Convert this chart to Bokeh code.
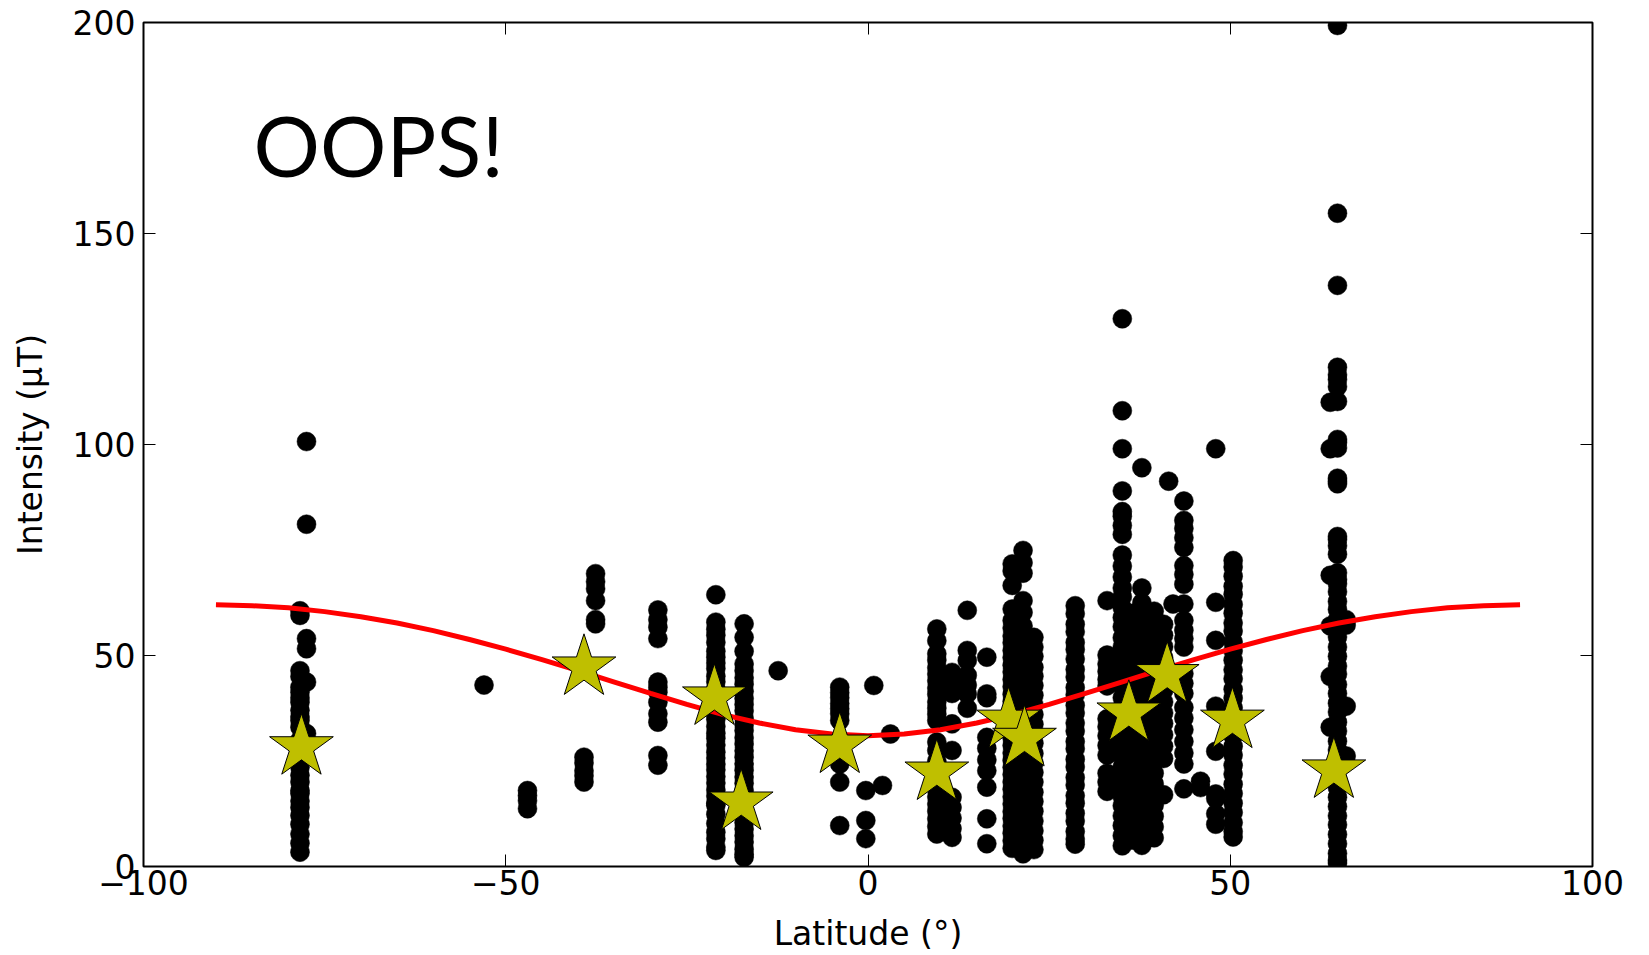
from bokeh.plotting import figure
from bokeh.models import (Range1d, FixedTicker, LinearAxis, CustomJSTickFormatter,
                          Label, ColumnDataSource)
from bokeh.embed import file_html
from bokeh.resources import INLINE

# ---------------- data ----------------
x_ticks = [-100, -50, 0, 50, 100]
y_ticks = [0, 50, 100, 150, 200]

# individual measurements, grouped by latitude column
column_lat = [-77.5, -78.4, -53.0, -47.0, -37.6, -39.2, -29.0, -21.0, -17.1, -12.4,
              -3.9, -0.3, 0.8, 2.0, 3.1, 9.5, 11.6, 13.7, 16.4, 19.9, 21.4, 22.9,
              28.6, 33.0, 35.1, 36.5, 37.8, 39.5, 40.8, 41.5, 42.1, 43.6, 45.9,
              48.0, 50.4, 63.8, 64.8, 66.0]
column_values = [
    [100.7, 81.1, 54.0, 51.6, 43.7, 31.5],
    [60.6, 59.5, 46.4, 45.0, 42.5, 41.3, 40.0, 38.9, 37.0, 35.5, 34.6, 33.0, 30.0,
     28.3, 26.5, 25.0, 23.5, 21.6, 20.0, 18.0, 17.3, 15.5, 14.0, 12.1, 10.0, 7.7, 5.5, 3.4],
    [43.0],
    [18.0, 16.8, 15.6, 13.7],
    [69.4, 67.5, 65.8, 63.0, 58.5, 57.5],
    [46.5, 25.9, 24.5, 22.7, 21.5, 20.0],
    [60.8, 58.5, 56.7, 54.0, 43.7, 42.5, 41.3, 38.9, 36.2, 34.2, 26.3, 24.0],
    [64.4, 57.9, 56.2, 54.8, 53.1, 51.0, 49.6, 48.2, 46.9, 45.1, 43.8, 42.0, 40.7,
     39.3, 37.6, 36.1, 34.9, 33.2, 31.6, 30.4, 28.8, 27.1, 25.7, 24.2, 22.9, 21.3,
     19.8, 18.1, 16.7, 15.0, 14.5, 12.4, 10.2, 8.1, 6.6, 4.6, 3.8],
    [57.5, 54.3, 51.0, 48.0, 46.4, 44.7, 43.2, 41.5, 39.8, 38.4, 36.9, 35.1, 33.6,
     32.2, 30.5, 29.0, 27.4, 25.9, 24.3, 22.8, 21.2, 19.7, 18.0, 16.6, 15.1, 13.5,
     12.0, 10.4, 8.9, 7.3, 5.8, 4.1, 2.9, 2.2],
    [46.4],
    [42.5, 41.2, 40.0, 38.6, 37.4, 36.2, 34.6, 30.0, 28.0, 24.3, 20.0, 9.7],
    [18.0, 10.9, 6.6],
    [42.9],
    [19.2],
    [31.4],
    [56.3, 53.5, 50.4, 48.9, 47.1, 45.6, 44.0, 42.3, 40.8, 39.0, 37.5, 36.1, 34.6,
     29.5, 27.5, 25.0, 22.3, 20.0, 18.2, 16.5, 14.8, 13.1, 11.3, 9.5, 7.7],
    [46.0, 43.5, 41.0, 33.8, 27.5, 16.4, 14.0, 11.5, 9.0, 6.9],
    [60.7, 51.2, 48.8, 45.3, 43.0, 40.9, 37.5],
    [49.6, 40.9, 40.0, 30.6, 28.0, 25.3, 22.7, 18.8, 11.3, 5.4],
    [71.7, 70.0, 66.6, 61.0, 58.3, 56.5, 54.6, 53.0, 51.2, 49.5, 47.7, 46.1, 44.3,
     42.6, 40.8, 39.1, 37.4, 35.6, 33.9, 32.2, 30.4, 28.7, 26.9, 25.2, 23.5, 21.8,
     20.0, 18.3, 16.5, 14.8, 13.0, 11.4, 9.6, 7.9, 6.1, 4.3],
    [74.9, 72.0, 69.5, 63.0, 60.2, 57.0, 55.1, 52.4, 50.0, 47.3, 45.0, 42.2, 39.7,
     37.0, 34.5, 32.1, 29.4, 27.0, 24.4, 22.0, 19.6, 17.0, 14.5, 12.1, 9.4, 7.0, 4.6, 3.0],
    [54.3, 52.0, 49.8, 47.2, 45.1, 42.9, 40.6, 38.3, 36.0, 33.7, 31.4, 29.2, 26.8,
     24.5, 22.3, 20.0, 17.6, 15.4, 13.1, 10.8, 8.5, 6.2, 4.0],
    [61.8, 59.9, 57.4, 55.6, 53.1, 51.4, 49.2, 46.7, 44.9, 42.4, 40.7, 38.2, 36.4,
     34.0, 32.1, 29.6, 27.9, 25.4, 23.6, 21.1, 19.3, 16.8, 15.0, 12.6, 10.8, 8.3, 6.5, 5.3],
    [63.0, 50.1, 48.0, 46.2, 44.3, 42.8, 35.0, 33.1, 31.0, 28.7, 26.4, 22.1, 20.0, 17.8],
    [129.8, 108.0, 99.0, 89.0, 84.1, 83.0, 80.8, 78.7, 73.8, 71.2, 68.6, 66.0, 63.9,
     61.3, 59.0, 56.8, 54.2, 52.0, 49.7, 47.1, 44.9, 42.6, 40.0, 37.8, 35.5, 33.0,
     30.7, 28.4, 26.0, 23.6, 21.3, 19.0, 16.6, 14.4, 12.0, 9.7, 7.3, 4.9],
    [60.0, 57.5, 55.0, 52.2, 50.0, 47.5, 45.1, 42.6, 40.2, 37.9, 35.3, 33.0, 30.4,
     28.1, 25.7, 23.2, 20.8, 18.4, 16.0, 13.5, 11.1, 8.7, 6.3],
    [94.5, 66.0, 62.5, 58.9, 56.0, 53.4, 51.0, 48.2, 45.8, 43.0, 40.5, 38.0, 35.4,
     32.9, 30.2, 27.8, 25.1, 22.6, 20.0, 17.5, 15.1, 12.6, 10.1, 7.5, 5.0],
    [60.5, 58.0, 55.3, 52.8, 50.1, 47.6, 45.0, 42.5, 40.0, 37.4, 34.9, 32.3, 29.8,
     27.2, 24.7, 22.1, 19.6, 17.0, 14.5, 11.9, 9.4, 6.8],
    [57.4, 54.8, 52.1, 49.5, 46.8, 44.3, 41.7, 39.0, 36.4, 33.9, 31.2, 28.5, 25.6, 17.0],
    [91.3],
    [62.2],
    [86.6, 82.0, 80.1, 77.9, 75.6, 71.3, 69.2, 66.9, 62.2, 58.3, 56.0, 54.0, 52.0,
     45.7, 43.4, 41.0, 37.7, 35.2, 32.4, 29.6, 26.9, 24.3, 18.4],
    [18.7, 20.2],
    [99.0, 62.6, 53.6, 38.0, 27.3, 17.2, 16.1, 12.5, 10.0],
    [72.5, 71.0, 68.8, 66.4, 64.5, 62.1, 60.0, 57.7, 55.8, 53.2, 51.1, 48.9, 46.6,
     44.5, 42.0, 39.9, 37.6, 35.4, 33.0, 30.9, 28.5, 26.4, 24.0, 21.9, 19.5, 17.3,
     15.0, 12.8, 10.4, 8.3, 7.0],
    [110.0, 99.0, 69.0, 57.0, 45.0, 33.0],
    [199.3, 154.8, 137.7, 118.3, 116.5, 115.4, 113.7, 110.2, 101.2, 100.5, 99.2, 92.0,
     91.3, 90.7, 78.2, 77.5, 76.0, 74.0, 69.6, 68.0, 67.0, 65.1, 62.8, 60.9, 58.5,
     56.2, 54.4, 52.0, 49.8, 47.5, 45.6, 43.1, 41.0, 38.7, 36.6, 34.2, 32.1, 29.7,
     27.6, 25.3, 23.1, 20.8, 18.7, 16.4, 14.2, 12.0, 9.9, 7.6, 5.4, 3.1, 1.5, 0.8],
    [58.5, 57.2, 38.0, 26.2],
]

# site mean values (stars)
mean_lat = [-78.2, -39.2, -21.2, -17.5, -3.9, 9.5, 19.4, 21.6, 36.0, 41.3, 50.3, 64.3]
mean_int = [28.3, 47.2, 40.1, 15.2, 28.7, 22.3, 34.6, 30.3, 36.3, 45.4, 34.6, 22.8]

# red reference curve
curve_lat = [-90, -85, -80, -75, -70, -65, -60, -55, -50, -45, -40, -35, -30, -25,
             -20, -15, -10, -5, 0, 5, 10, 15, 20, 25, 30, 35, 40, 45, 50, 55, 60,
             65, 70, 75, 80, 85, 90]
curve_int = [62.0, 61.8, 61.3, 60.4, 59.2, 57.7, 55.9, 53.8, 51.5, 49.0, 46.4, 43.7,
             41.0, 38.4, 36.0, 34.0, 32.4, 31.4, 31.0, 31.4, 32.4, 34.0, 36.0, 38.4,
             41.0, 43.7, 46.4, 49.0, 51.5, 53.8, 55.9, 57.7, 59.2, 60.4, 61.3, 61.8, 62.0]

annotation_text = "OOPS!"
x_label = "Latitude (°)"
y_label = "Intensity (μT)"

# ---------------- build sources ----------------
dot_x, dot_y = [], []
for lat, vals in zip(column_lat, column_values):
    for v in vals:
        dot_x.append(lat)
        dot_y.append(v)
dots = ColumnDataSource(dict(x=dot_x, y=dot_y))
stars = ColumnDataSource(dict(x=mean_lat, y=mean_int))
curve = ColumnDataSource(dict(x=curve_lat, y=curve_int))

FONT = "DejaVu Sans"
FS = "33px"

p = figure(frame_width=1449, frame_height=844,
           x_range=Range1d(-100, 100), y_range=Range1d(0, 200),
           output_backend="svg", toolbar_location=None,
           min_border_left=143, min_border_right=57,
           min_border_top=22, min_border_bottom=89)
p.background_fill_color = "white"
p.border_fill_color = "white"
p.outline_line_color = "black"
p.outline_line_width = 2
p.xgrid.visible = False
p.ygrid.visible = False

minus_fmt = "return tick < 0 ? '\\u2212' + (-tick) : '' + tick;"

def style_axis(ax, ticks, labels=True):
    ax.ticker = FixedTicker(ticks=ticks, minor_ticks=[])
    ax.axis_line_color = None
    ax.major_tick_in = 12
    ax.major_tick_out = 0
    ax.major_tick_line_color = "black"
    ax.major_tick_line_width = 1
    ax.minor_tick_line_color = None
    ax.major_label_text_font = FONT
    ax.major_label_text_font_size = FS
    ax.major_label_text_color = "black"
    ax.axis_label_text_font = FONT
    ax.axis_label_text_font_size = FS
    ax.axis_label_text_font_style = "normal"
    ax.axis_label_text_color = "black"
    if labels:
        ax.formatter = CustomJSTickFormatter(code=minus_fmt)
    else:
        ax.formatter = CustomJSTickFormatter(code="return '';")
        ax.major_label_text_font_size = "1px"

xa = p.xaxis[0]
ya = p.yaxis[0]
style_axis(xa, x_ticks)
style_axis(ya, y_ticks)
xa.axis_label = x_label
ya.axis_label = y_label
xa.major_label_standoff = 3
ya.major_label_standoff = 8
xa.axis_label_standoff = 16
ya.axis_label_standoff = 20

top = LinearAxis()
style_axis(top, x_ticks, labels=False)
p.add_layout(top, "above")
right = LinearAxis()
style_axis(right, y_ticks, labels=False)
p.add_layout(right, "right")

p.scatter("x", "y", source=dots, size=19, marker="circle",
          fill_color="black", line_color="black", line_width=0.5)
p.line("x", "y", source=curve, line_color="#ff0000", line_width=5)
p.scatter("x", "y", source=stars, size=67, marker="star",
          fill_color="#bfbf00", line_color="black", line_width=1)

p.add_layout(Label(x=-84.8, y=171.0, text=annotation_text, text_font="Lato",
                   text_font_size="83px", text_color="black",
                   text_baseline="alphabetic", text_align="left"))

open("out.html", "w").write(file_html(p, INLINE))
